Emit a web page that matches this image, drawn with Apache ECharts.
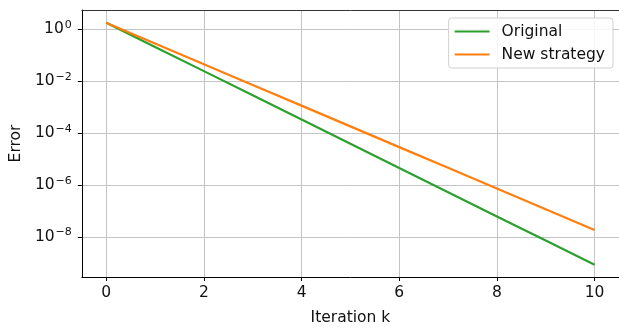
<!DOCTYPE html>
<html>
<head>
<meta charset="utf-8">
<script src="https://cdn.jsdelivr.net/npm/echarts@6/dist/echarts.min.js"></script>
<style>
html,body{margin:0;padding:0;background:#fff;}
#chart{width:619px;height:331px;}
</style>
</head>
<body>
<div id="chart"></div>
<script>
const iterations = [0, 1, 2, 3, 4, 5, 6, 7, 8, 9, 10];
const original = [1.82, 0.212, 0.0248, 2.89e-3, 3.37e-4, 3.94e-5, 4.59e-6, 5.36e-7, 6.25e-8, 7.29e-9, 8.5e-10];
const newStrategy = [1.82, 0.289, 0.0459, 7.3e-3, 1.16e-3, 1.84e-4, 2.92e-5, 4.65e-6, 7.38e-7, 1.17e-7, 1.86e-8];
const xTicks = [0, 2, 4, 6, 8, 10];
const yTicks = [1, 1e-2, 1e-4, 1e-6, 1e-8];
const seriesNames = ['Original', 'New strategy'];

const FONT = 'DejaVu Sans';
const FS = 15.5;
const chart = echarts.init(document.getElementById('chart'), null, {renderer: 'canvas'});

function supLabel(v) {
  const e = Math.round(Math.log10(v));
  const s = e < 0 ? '\u2212' + Math.abs(e) : String(e);
  return '10{sup|' + s + '}';
}

chart.setOption({
  animation: false,
  backgroundColor: '#fff',
  grid: {left: 80, right: -2, top: 10, bottom: 52},
  legend: {
    orient: 'vertical',
    right: 6,
    top: 18,
    data: seriesNames,
    icon: 'rect',
    itemWidth: 35,
    itemHeight: 2,
    itemGap: 6,
    padding: [5, 8, 5, 6],
    borderColor: '#d0d0d0',
    borderWidth: 1,
    borderRadius: 3,
    backgroundColor: 'rgba(255,255,255,0.85)',
    textStyle: {fontFamily: FONT, fontSize: FS, color: '#111', padding: [0, 0, 0, 7], lineHeight: 17}
  },
  xAxis: [{
    type: 'value',
    min: -0.5,
    max: 10.5,
    name: 'Iteration k',
    nameLocation: 'middle',
    nameGap: 33,
    nameTextStyle: {fontFamily: FONT, fontSize: FS, color: '#111'},
    axisLine: {show: true, onZero: false, lineStyle: {color: '#000', width: 1}},
    axisTick: {show: true, length: 4, lineStyle: {color: '#000'}, customValues: xTicks},
    axisLabel: {fontFamily: FONT, fontSize: FS, color: '#111', margin: 8, customValues: xTicks},
    splitLine: {show: true, lineStyle: {color: '#c4c4c4', width: 1}}
  }, {
    type: 'value',
    position: 'top',
    min: -0.5,
    max: 10.5,
    axisLine: {show: true, onZero: false, lineStyle: {color: '#333', width: 1}},
    axisTick: {show: false},
    axisLabel: {show: false},
    splitLine: {show: false}
  }],
  yAxis: {
    type: 'log',
    min: Math.pow(10, -9.54),
    max: Math.pow(10, 0.75),
    name: 'Error',
    nameLocation: 'middle',
    nameGap: 57,
    nameTextStyle: {fontFamily: FONT, fontSize: FS, color: '#111'},
    axisLine: {show: true, onZero: false, lineStyle: {color: '#000', width: 1}},
    axisTick: {show: true, length: 4, lineStyle: {color: '#000'}, customValues: yTicks},
    axisLabel: {
      fontFamily: FONT, fontSize: FS, color: '#111', margin: 10,
      customValues: yTicks,
      formatter: supLabel,
      rich: {sup: {fontFamily: FONT, fontSize: 11, color: '#111', verticalAlign: 'top', padding: [0, 0, 9, 1]}}
    },
    splitLine: {show: true, lineStyle: {color: '#c4c4c4', width: 1}}
  },
  series: [
    {
      name: seriesNames[0], type: 'line', showSymbol: false, symbol: 'none',
      data: iterations.map((k, i) => [k, original[i]]),
      lineStyle: {color: '#2ca02c', width: 2.2}, itemStyle: {color: '#2ca02c'}
    },
    {
      name: seriesNames[1], type: 'line', showSymbol: false, symbol: 'none',
      data: iterations.map((k, i) => [k, newStrategy[i]]),
      lineStyle: {color: '#ff7f0e', width: 2.2}, itemStyle: {color: '#ff7f0e'}
    }
  ]
});
</script>
</body>
</html>
